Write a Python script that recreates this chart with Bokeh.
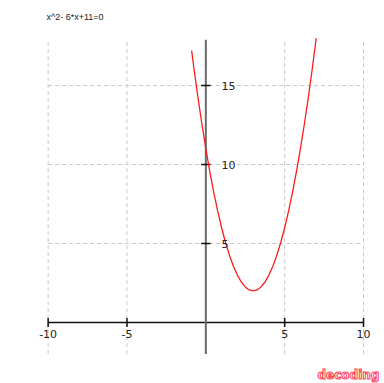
from bokeh.plotting import figure
from bokeh.models import Range1d, Label
from bokeh.core.properties import value
from bokeh.embed import file_html
from bokeh.resources import INLINE

# Sampled points of y = x^2 - 6x + 11
curve_x = [-0.9, -0.75, -0.5, -0.25, 0, 0.25, 0.5, 0.75, 1, 1.25, 1.5, 1.75, 2,
           2.25, 2.5, 2.75, 3, 3.25, 3.5, 3.75, 4, 4.25, 4.5, 4.75, 5, 5.25,
           5.5, 5.75, 6, 6.25, 6.5, 6.75, 7]
curve_y = [17.21, 16.0625, 14.25, 12.5625, 11, 9.5625, 8.25, 7.0625, 6, 5.0625,
           4.25, 3.5625, 3, 2.5625, 2.25, 2.0625, 2, 2.0625, 2.25, 2.5625, 3,
           3.5625, 4.25, 5.0625, 6, 7.0625, 8.25, 9.5625, 11, 12.5625, 14.25,
           16.0625, 18]

x_ticks = [-10, -5, 5, 10]
x_tick_labels = ["-10", "-5", "5", "10"]
y_ticks = [5, 10, 15]
y_tick_labels = ["5", "10", "15"]
x_span = (-10, 10)
y_span = (-2, 17.9)
title_text = "x^2- 6*x+11=0"

p = figure(width=384, height=383, output_backend="svg", toolbar_location=None,
           x_axis_type=None, y_axis_type=None, min_border=0,
           x_range=Range1d(-13.02, 11.33), y_range=Range1d(-3.86, 20.38))
p.outline_line_color = None
p.background_fill_color = "white"
p.border_fill_color = "white"

grid_color = "#c8c8c8"
# dashed grid
p.segment(x0=x_ticks, y0=[y_span[0]] * len(x_ticks), x1=x_ticks,
          y1=[y_span[1]] * len(x_ticks), line_color=grid_color,
          line_width=1, line_dash="4 3")
p.segment(x0=[x_span[0]] * len(y_ticks), y0=y_ticks, x1=[x_span[1]] * len(y_ticks),
          y1=y_ticks, line_color=grid_color, line_width=1, line_dash="4 3")

# x axis through the origin
p.segment(x0=[x_span[0]], y0=[0], x1=[x_span[1]], y1=[0],
          line_color="#111111", line_width=1.6)
p.segment(x0=x_ticks, y0=[-0.28] * len(x_ticks), x1=x_ticks,
          y1=[0.28] * len(x_ticks), line_color="#111111", line_width=1.5)

# y axis through the origin
p.segment(x0=[0], y0=[y_span[0]], x1=[0], y1=[y_span[1]],
          line_color="#6a6a6a", line_width=2)
p.segment(x0=[-0.3] * len(y_ticks), y0=y_ticks, x1=[0.3] * len(y_ticks),
          y1=y_ticks, line_color="#111111", line_width=1.5)

# the parabola
p.line(curve_x, curve_y, line_color="#ff1a1a", line_width=1.3)

# tick labels
p.text(x=x_ticks, y=[-0.45] * len(x_ticks), text=x_tick_labels,
       text_align="center", text_baseline="top",
       text_font=value("DejaVu Sans"), text_font_size="11px",
       text_color="#222222")
p.text(x=[1.0] * len(y_ticks), y=y_ticks, text=y_tick_labels,
       text_align="left", text_baseline="middle",
       text_font=value("DejaVu Sans"), text_font_size="11px",
       text_color="#222222")

p.add_layout(Label(x=46, y=367, x_units="screen", y_units="screen",
                   text=title_text, text_font="Liberation Sans",
                   text_font_size="9px", text_color="#222222",
                   text_baseline="middle"))

p.add_layout(Label(x=317, y=2, x_units="screen", y_units="screen",
                   text="decoding", text_font="DejaVu Sans",
                   text_font_style="bold", text_font_size="12px",
                   text_color="white", text_outline_color="#ff3d55",
                   text_baseline="bottom"))

open("out.html", "w").write(file_html(p, INLINE))
